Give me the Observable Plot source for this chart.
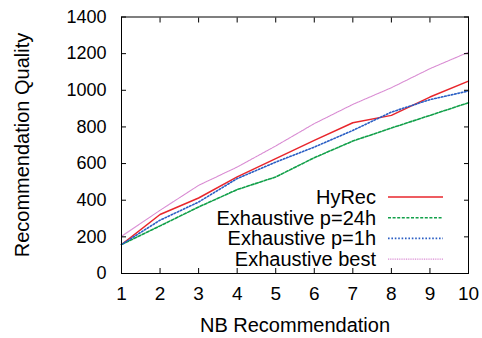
<!DOCTYPE html>
<html>
<head>
<meta charset="utf-8">
<script src="https://cdn.jsdelivr.net/npm/d3@7"></script>
<script src="https://cdn.jsdelivr.net/npm/@observablehq/plot@0.6"></script>
<style>
  html, body { margin: 0; padding: 0; background: #fff; }
  #chart svg { font-family: "Liberation Sans", Arial, sans-serif; }
</style>
</head>
<body>
<div id="chart"></div>
<script>
// Recommendation quality against the number of recommendations
const nb = [1, 2, 3, 4, 5, 6, 7, 8, 9, 10];
const hyrec = [158, 322, 412, 527, 627, 727, 823, 863, 963, 1050];
const exh24h = [158, 260, 363, 458, 527, 632, 723, 794, 863, 932];
const exh1h = [158, 291, 390, 518, 608, 690, 781, 881, 949, 996];
const exhBest = [203, 345, 481, 581, 696, 818, 923, 1014, 1118, 1208];
const yTicks = [0, 200, 400, 600, 800, 1000, 1200, 1400];

const series = [
  {name: "HyRec", values: hyrec, color: "#e8262c", width: 1.5, dash: null},
  {name: "Exhaustive p=24h", values: exh24h, color: "#12a04a", width: 1.6, dash: "3,1.6"},
  {name: "Exhaustive p=1h", values: exh1h, color: "#2a5ec4", width: 1.6, dash: "1.6,1.8"},
  {name: "Exhaustive best", values: exhBest, color: "#d98cd3", width: 1.1, dash: "1,0.8"}
];

const lineMarks = series.map(s => Plot.line(
  nb.map((x, i) => ({x, y: s.values[i]})),
  {x: "x", y: "y", stroke: s.color, strokeWidth: s.width,
   strokeDasharray: s.dash, strokeLinejoin: "round"}
));

const plot = Plot.plot({
  width: 482,
  height: 338,
  marginLeft: 121,
  marginRight: 14,
  marginTop: 16.5,
  marginBottom: 65,
  style: {fontSize: "18px", fontFamily: "Liberation Sans, Arial, sans-serif", color: "#000"},
  x: {domain: [1, 10]},
  y: {domain: [0, 1400]},
  marks: [
    ...lineMarks,
    Plot.axisX({ticks: nb, tickSize: -5, tickPadding: 18, tickFormat: d => String(d),
      fontSize: 19, label: null}),
    Plot.axisX({anchor: "top", ticks: nb, tickSize: -5, text: null, label: null}),
    Plot.axisY({ticks: yTicks, tickSize: -5, tickPadding: 20, tickFormat: d => String(d),
      fontSize: 18, label: null}),
    Plot.axisY({anchor: "right", ticks: yTicks, tickSize: -5, text: null, label: null}),
    Plot.frame({stroke: "#000", strokeWidth: 1})
  ]
});

document.getElementById("chart").appendChild(plot);

const svg = d3.select(plot);

// Axis titles
svg.append("text")
  .attr("x", 295).attr("y", 325).attr("dy", "0.35em")
  .attr("text-anchor", "middle").attr("font-size", 20).attr("fill", "#000")
  .text("NB Recommendation");
svg.append("text")
  .attr("transform", "translate(29,145) rotate(-90)")
  .attr("text-anchor", "middle").attr("font-size", 20).attr("fill", "#000")
  .text("Recommendation Quality");

// Legend in the lower-right corner of the plot area
const legend = svg.append("g").attr("font-size", 20);
series.forEach((s, i) => {
  const y = 197 + i * 20.7;
  legend.append("text")
    .attr("x", 376).attr("y", y).attr("dy", "0.35em")
    .attr("text-anchor", "end").attr("fill", "#000")
    .text(s.name);
  legend.append("line")
    .attr("x1", 388).attr("x2", 443).attr("y1", y).attr("y2", y)
    .attr("stroke", s.color).attr("stroke-width", s.width)
    .attr("stroke-dasharray", s.dash);
});
</script>
</body>
</html>
